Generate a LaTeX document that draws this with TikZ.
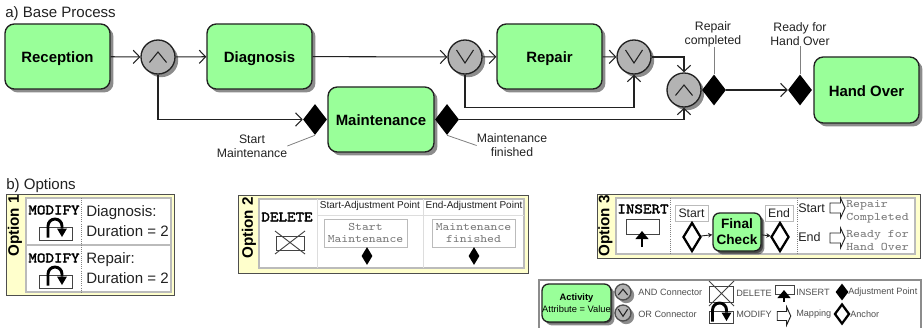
\documentclass[tikz,border=0pt]{standalone}
\usepackage{fontspec}
\setmainfont{Liberation Sans}
\newfontfamily\codefont[FakeStretch=1.14,FakeBold=2.2]{Latin Modern Mono}
\newfontfamily\plainmono[FakeStretch=1.14]{Latin Modern Mono}
\usetikzlibrary{shapes.geometric,shadows,arrows.meta}
\definecolor{actgreen}{HTML}{99FF99}
\definecolor{panelyellow}{HTML}{FFFFCC}
\definecolor{conngray}{HTML}{B3B3B3}
\definecolor{ink}{HTML}{222222}
\definecolor{softgray}{HTML}{BBBBBB}
\definecolor{monogray}{HTML}{7A7A7A}
\tikzset{
  x=0.75pt,y=-0.75pt,
  activity/.style 2 args={draw=ink,line width=1pt,fill=actgreen,rounded corners=7pt,
    minimum width=#1*0.75pt,minimum height=#2*0.75pt,inner sep=0pt,align=center,
    font=\bfseries\fontsize{11.2}{14}\selectfont,
    drop shadow={shadow xshift=2.6pt,shadow yshift=-2.6pt,fill=black,opacity=.45}},
  bigtext/.style={text height=9pt,text depth=0pt},
  conn/.style={circle,draw=ink,line width=1pt,fill=conngray,minimum size=#1*1.5pt,inner sep=0pt,
    drop shadow={shadow xshift=2.4pt,shadow yshift=-2.4pt,fill=black,opacity=.45}},
  andmark/.style={path picture={\draw[ink,line width=.8pt]
    ([shift={(-#1*8.5,#1*5.5)}]path picture bounding box.center) --
    ([shift={(0,-#1*5)}]path picture bounding box.center) --
    ([shift={(#1*8.5,#1*5.5)}]path picture bounding box.center);}},
  ormark/.style={path picture={\draw[ink,line width=.8pt]
    ([shift={(-#1*8.5,-#1*7)}]path picture bounding box.center) --
    ([shift={(0,#1*6)}]path picture bounding box.center) --
    ([shift={(#1*8.5,-#1*7)}]path picture bounding box.center);}},
  adjpoint/.style 2 args={diamond,fill=black,inner sep=0pt,minimum width=#1*0.75pt,minimum height=#2*0.75pt},
  anchorpt/.style 2 args={diamond,draw=black,fill=white,line width=1.7pt,inner sep=0pt,minimum width=#1*0.75pt,minimum height=#2*0.75pt},
  flow/.style={draw=ink,line width=.8pt,-{Straight Barb[length=4.8pt,width=10pt,line width=.8pt]}},
  leader/.style={draw=gray,line width=.6pt},
  lbl/.style={inner sep=0pt,align=center,text=ink,font=\fontsize{9.2}{10.4}\selectfont},
  title/.style={inner sep=0pt,anchor=west,text=ink,font=\fontsize{11.3}{13}\selectfont},
  panel/.style={draw=ink!80,line width=.7pt,fill=panelyellow},
  inner/.style={draw=softgray,line width=1.5pt,fill=white},
  optlabel/.style={rotate=90,inner sep=0pt,font=\bfseries\fontsize{11.4}{14}\selectfont},
  opcode/.style={inner sep=0pt,font=\codefont\fontsize{10.7}{12}\selectfont},
  optext/.style={inner sep=0pt,anchor=west,text=ink,font=\fontsize{11.3}{13.5}\selectfont},
  dots/.style={draw=gray,line width=.6pt,densely dotted},
  cell/.style={draw=softgray!50,line width=.6pt},
  headtxt/.style={inner sep=0pt,text=ink,font=\fontsize{7.5}{10}\selectfont},
  monobox/.style={draw=softgray,line width=.6pt,fill=white,inner sep=0pt,align=center,text=monogray,
    minimum width=83*0.75pt,minimum height=28*0.75pt,font=\plainmono\fontsize{8.6}{9.6}\selectfont},
  monotxt/.style={inner sep=0pt,anchor=west,align=left,text=monogray,font=\plainmono\fontsize{8.7}{9.4}\selectfont},
  tagbox/.style={draw=softgray,line width=.6pt,fill=white,inner sep=0pt,text=ink,font=\fontsize{9.2}{11}\selectfont,minimum height=16*0.75pt},
  icon/.style={draw=ink!85,line width=.7pt},
  legtxt/.style={inner sep=0pt,anchor=west,text=ink!80,font=\fontsize{6.85}{9}\selectfont},
  modarc/.pic={
    \draw[black,line width=2.2pt] (-7.5,4) -- (-7.5,-7.5) arc[start angle=180,end angle=360,radius=7] -- (6.5,-5);
    \fill[black] (1.5,-5) -- (11.5,-5) -- (6.5,3.5) -- cycle;
  },
  mapicon/.pic={
    \draw[ink,line width=.7pt,fill=white] (-7.5,-5) -- (3,-5) -- (3,-10) -- (7.5,0) -- (3,10) -- (3,5) -- (-7.5,5) -- cycle;
  },
  uparrow/.style={draw=black,line width=2.1pt,-{Triangle[length=6pt,width=9.5pt]}}
}
\begin{document}
\begin{tikzpicture}
\useasboundingbox (0,0) rectangle (924,328);
% ---------- a) base process
\node[title] (ta) at (5,14) {a) Base Process};
\node[activity={105}{65},bigtext] (rec) at (57.5,56.5) {Reception};
\node[conn=17,andmark=1] (and1) at (158,57) {};
\node[activity={105}{65},bigtext] (dia) at (259.5,56.5) {Diagnosis};
\node[conn=17,ormark=1] (or1) at (465,57) {};
\node[activity={105}{65},bigtext] (rep) at (549.5,56.5) {Repair};
\node[conn=17,ormark=1] (or2) at (634,57) {};
\node[conn=17,andmark=1] (and3) at (684,90) {};
\node[adjpoint={24}{31}] (drc) at (714,90) {};
\node[adjpoint={24}{31}] (drd) at (800,90) {};
\node[activity={105}{66},bigtext] (hand) at (866.5,90) {Hand Over};
\node[activity={106}{65},bigtext] (mnt) at (381,119.5) {Maintenance};
\node[adjpoint={24}{31}] (dst) at (315,119.5) {};
\node[adjpoint={24}{31}] (dfn) at (447,119.5) {};
\draw[flow] (rec) -- (and1);
\draw[flow] (and1) -- (dia);
\draw[flow] (dia) -- (or1);
\draw[flow] (or1) -- (rep);
\draw[flow] (rep) -- (or2);
\draw[flow] (or2.east) -| (and3.north);
\draw[flow] (or1.south) -- ++(0,33) -| (or2.south);
\draw[flow] (and1.south) |- (dst.west);
\draw[flow] (dfn.east) -| (and3.south);
\draw[flow] (drc) -- (drd);
\node[lbl] (lst) at (252,146) {Start\\Maintenance};
\node[lbl] (lfn) at (512,145.5) {Maintenance\\finished};
\node[lbl] (lrc) at (713,34) {Repair\\completed};
\node[lbl] (lrd) at (800,34) {Ready for\\Hand Over};
\draw[leader] (dst.south) -- (lst.east);
\draw[leader] (dfn.south) -- (lfn.west);
\draw[leader] (drc.north) -- (lrc.south -| drc.north);
\draw[leader] (drd.north) -- (lrd.south);
% ---------- b) options
\node[title] (tb) at (6,186) {b) Options};
% option 1
\draw[panel] (6,194) rectangle (174,295);
\draw[inner] (26,198) rectangle (171,292);
\draw[softgray,line width=1.1pt] (26,245) -- (171,245);
\draw[dots] (81,198) -- (81,292);
\node[optlabel] (o1) at (15,226) {Option 1};
\node[opcode] (m1) at (54,210) {MODIFY};
\node[opcode] (m2) at (54,258) {MODIFY};
\draw[icon] (39,227) rectangle (72,240);
\draw[icon] (39,275) rectangle (72,288);
\pic at (55.5,233.5) {modarc};
\pic at (55.5,281.5) {modarc};
\node[optext] (d1) at (86,213) {Diagnosis:};
\node[optext] (d2) at (86,231) {Duration = 2};
\node[optext] (r1) at (86,260) {Repair:};
\node[optext] (r2) at (86,278) {Duration = 2};
% option 2
\draw[panel] (238,195) rectangle (528,273);
\draw[inner] (259,199) rectangle (524,268);
\draw[cell] (317,199) -- (317,268) (423,199) -- (423,268) (317,215) -- (524,215);
\node[optlabel] (o2) at (249,228) {Option 2};
\node[opcode] (del) at (287,217) {DELETE};
\draw[icon] (276,236) rectangle (304,250);
\draw[icon] (275,231) -- (305,254) (305,231) -- (275,254);
\node[headtxt] (hs) at (370,205.5) {Start-Adjustment Point};
\node[headtxt] (he) at (474,205.5) {End-Adjustment Point};
\node[monobox] (bs) at (365.5,233) {Start\\Maintenance};
\node[monobox] (be) at (473.5,233) {Maintenance\\finished};
\node[adjpoint={11}{18}] (a1) at (367,256) {};
\node[adjpoint={11}{18}] (a2) at (474,256) {};
% option 3
\draw[panel] (597,194) rectangle (920,258);
\draw[inner] (616,198) rectangle (915,254);
\draw[dots] (670,198) -- (670,254) (797,198) -- (797,254);
\node[optlabel] (o3) at (605.5,226) {Option 3};
\node[opcode] (ins) at (643,209) {INSERT};
\draw[icon] (626,219) rectangle (659,234);
\draw[uparrow] (642,247) -- (642,231);
\node[tagbox,minimum width=33*0.75pt] (ts) at (691.5,213) {Start};
\node[tagbox,minimum width=28*0.75pt] (te) at (779,213) {End};
\node[anchorpt={18}{29}] (as) at (692,237) {};
\node[anchorpt={18}{29}] (ae) at (780,237) {};
\node[activity={48}{38},font=\bfseries\fontsize{10.2}{12}\selectfont,rounded corners=5pt,
  drop shadow={shadow xshift=1.5pt,shadow yshift=-1.5pt,fill=black,opacity=.45}] (fc) at (737,232) {Final\\Check};
\draw[ink,line width=.7pt,-{Stealth[length=3.2pt,width=3.4pt]}] (as) -- (fc);
\draw[ink,line width=.7pt,-{Stealth[length=3.2pt,width=3.4pt]}] (fc) -- (ae);
\node[optext,font=\fontsize{9.4}{11}\selectfont] (ms) at (798,208) {Start};
\node[optext,font=\fontsize{9.4}{11}\selectfont] (me) at (798,237) {End};
\pic at (837.5,208) {mapicon};
\pic at (837.5,238) {mapicon};
\node[monotxt] (mr) at (846,212) {Repair\\Completed};
\node[monotxt] (mh) at (846,240.5) {Ready for\\Hand Over};
% ---------- legend
\draw[draw=gray!90,line width=.8pt] (539,328) -- (539,280) -- (921,280) -- (921,328);
\node[activity={69}{38},font=\fontsize{7}{9.5}\selectfont,rounded corners=5pt,
  drop shadow={shadow xshift=1pt,shadow yshift=-1pt,fill=black,opacity=.45}] (lact) at (576.5,303) {\textbf{Activity}\\Attribute = Value};
\node[conn=8,andmark=.55,draw=ink!80] (land) at (623,292) {};
\node[conn=8,ormark=.55,draw=ink!80] (lor) at (623,313) {};
\node[legtxt] (tand) at (638,292) {AND Connector};
\node[legtxt] (tor) at (638,314) {OR Connector};
\draw[icon] (709,286) rectangle (733,302);
\draw[icon] (709,281) -- (734,306) (734,281) -- (709,306);
\node[legtxt] (tdel) at (736,293) {DELETE};
\draw[icon] (709,311) rectangle (733,323);
\pic at (720,317.5) {modarc};
\node[legtxt] (tmod) at (736,314) {MODIFY};
\draw[icon] (775,285) rectangle (794,294);
\draw[uparrow,line width=1.7pt] (784,302) -- (784,290);
\node[legtxt] (tins) at (796,292) {INSERT};
\pic[scale=.9] at (784,316) {mapicon};
\node[legtxt] (tmap) at (796,314) {Mapping};
\node[adjpoint={13}{17}] (ladj) at (842,292) {};
\node[anchorpt={15}{20}] (lanc) at (842,314) {};
\node[legtxt] (tadj) at (848,292) {Adjustment Point};
\node[legtxt] (tanc) at (850,314) {Anchor};
\end{tikzpicture}
\end{document}
